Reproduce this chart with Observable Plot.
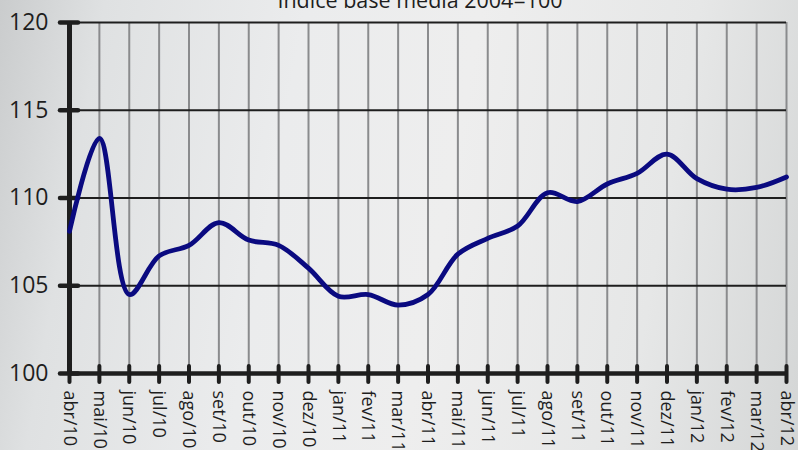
<!DOCTYPE html>
<html>
<head>
<meta charset="utf-8">
<script src="https://cdn.jsdelivr.net/npm/d3@7"></script>
<script src="https://cdn.jsdelivr.net/npm/@observablehq/plot@0.6"></script>
<style>
  html, body { margin: 0; padding: 0; }
  body {
    width: 798px; height: 450px; overflow: hidden;
    background: linear-gradient(100deg, #cacccd 0%, #dfe1e2 12%, #ebeced 35%, #eeeeee 55%, #e6e7e7 80%, #d4d6d6 100%);
  }
</style>
</head>
<body>
<div id="chart"></div>
<script>
const title = "Índice base média 2004=100";
const months = ["abr/10","mai/10","jun/10","jul/10","ago/10","set/10","out/10","nov/10","dez/10",
  "jan/11","fev/11","mar/11","abr/11","mai/11","jun/11","jul/11","ago/11","set/11","out/11","nov/11","dez/11",
  "jan/12","fev/12","mar/12","abr/12"];
const values = [108.1, 113.4, 104.5, 106.7, 107.3, 108.6, 107.6, 107.3, 106.0,
  104.4, 104.5, 103.9, 104.5, 106.8, 107.7, 108.4, 110.3, 109.8, 110.8, 111.4, 112.5,
  111.1, 110.5, 110.6, 111.2];
const yTicks = [100, 105, 110, 115, 120];
const gridY = [105, 110, 115, 120];

const data = months.map((m, i) => ({m, v: values[i]}));
const first = months[0], last = months[months.length - 1];

const chart = Plot.plot({
  width: 798,
  height: 450,
  marginLeft: 69,
  marginRight: 12,
  marginTop: 22,
  marginBottom: 77,
  style: {background: "transparent", fontFamily: "'Open Sans', sans-serif", color: "#1e1e1e"},
  x: {type: "point", domain: months, padding: 0, round: false, range: [69, 786]},
  y: {domain: [100, 120], range: [373, 22]},
  marks: [
    Plot.ruleX(months, {y1: 100, y2: 120, stroke: "#8a8b8d", strokeWidth: 2}),
    Plot.ruleY(gridY, {x1: () => first, x2: () => last, stroke: "#1e1e1e", strokeWidth: 2}),
    Plot.ruleY([100], {x1: () => first, x2: () => last, stroke: "#1e1e1e", strokeWidth: 4.5}),
    Plot.ruleX([first], {y1: 100, y2: 120, stroke: "#1e1e1e", strokeWidth: 5}),
    Plot.axisY({ticks: yTicks, tickSize: 18, dx: 9, tickFormat: () => "", label: null, stroke: "#1e1e1e", strokeWidth: 4.5, strokeLinecap: "round"}),
    Plot.axisY({ticks: yTicks, tickSize: 0, tickPadding: 21, fontSize: 23, label: null, fill: "#1e1e1e"}),
    Plot.axisX({ticks: months, tickSize: 16, dy: -7, tickFormat: () => "", label: null, stroke: "#1e1e1e", strokeWidth: 4, strokeLinecap: "round"}),
    Plot.axisX({ticks: months, tickSize: 0, tickPadding: 17, tickRotate: 90, fontSize: 18, label: null, fill: "#1e1e1e"}),
    Plot.line(data, {x: "m", y: "v", curve: "catmull-rom", stroke: "#0a0a80", strokeWidth: 4.8}),
    Plot.text([title], {x: [months[12]], y: [120], dx: -8, dy: -15, lineAnchor: "bottom", fontSize: 21.5, fill: "#1e1e1e"})
  ]
});
document.getElementById("chart").appendChild(chart);
</script>
</body>
</html>
